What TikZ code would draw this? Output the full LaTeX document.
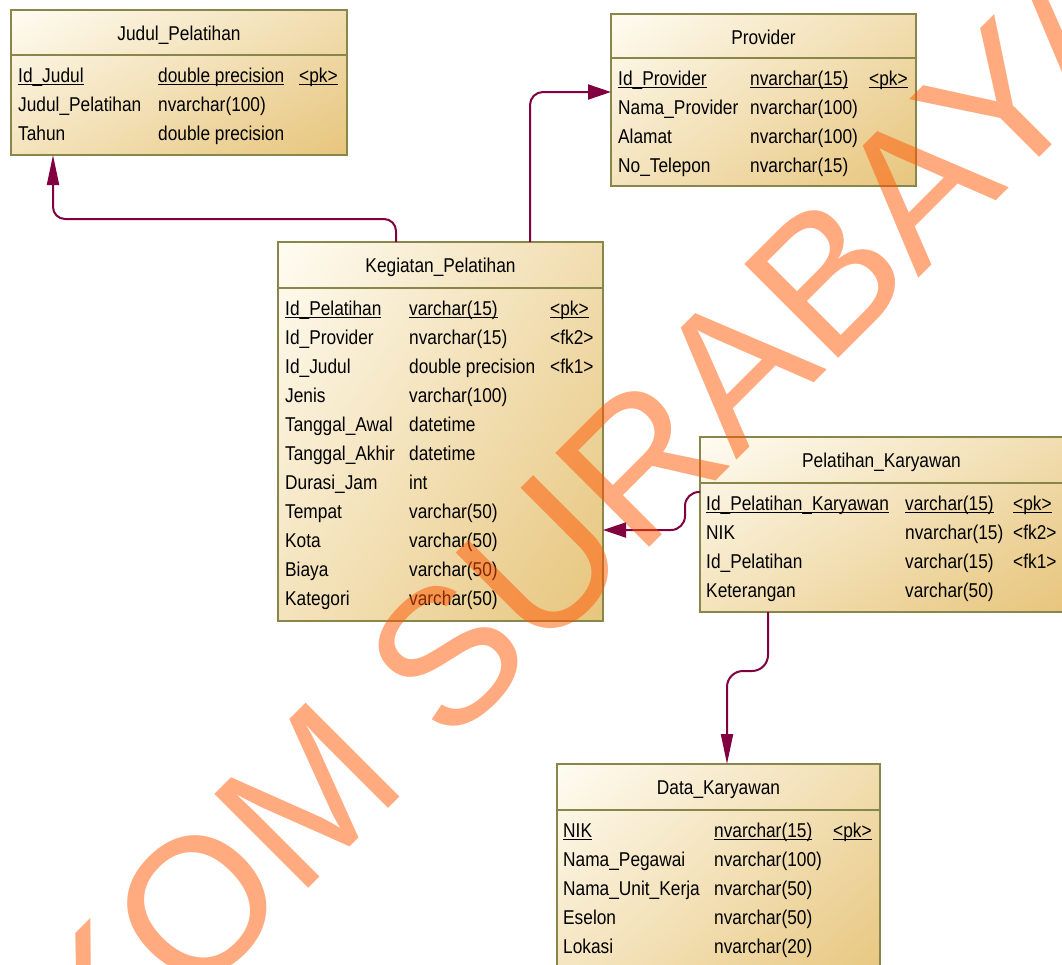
\documentclass[tikz,border=0pt]{standalone}
\usepackage{fontspec}
\setmainfont{Liberation Sans}[FakeStretch=0.865]
\newfontfamily\wmfont{Liberation Sans}
\usetikzlibrary{arrows.meta,shadings}
\definecolor{bordc}{RGB}{136,134,74}
\definecolor{connc}{RGB}{128,0,64}
\definecolor{wmc}{RGB}{255,85,0}
\definecolor{shUL}{RGB}{255,252,242}
\definecolor{shUR}{RGB}{241,221,176}
\definecolor{shLL}{RGB}{244,227,188}
\definecolor{shLR}{RGB}{231,197,124}
\newcommand\ulx[1]{\setbox0\hbox{#1}\rlap{\rule[-3pt]{\wd0}{1.3pt}}\box0}
\def\nokeymark{-}
\newcommand\tabrows[6]{%
  \foreach \fa/\fb/\fc [count=\i] in {#6}{%
    \node[cell] (#1-\i-a) at (#2,{#5+29*(\i-1)}) {\fa};
    \node[cell] (#1-\i-b) at (#3,{#5+29*(\i-1)}) {\fb};
    \ifx\fc\nokeymark\else\node[cell] (#1-\i-c) at (#4,{#5+29*(\i-1)}) {\fc};\fi
  }}
\tikzset{
  tbox/.style={draw=bordc, line width=1.8pt, rectangle, inner sep=0pt, outer sep=0pt,
    anchor=north west, upper left=shUL, upper right=shUR, lower left=shLL, lower right=shLR},
  hdr/.style={anchor=base, inner sep=0pt, font=\fontsize{20}{24}\selectfont},
  cell/.style={anchor=base west, inner sep=0pt, font=\fontsize{20}{24}\selectfont},
  sepline/.style={draw=bordc, line width=1.8pt},
  conn/.style={draw=connc, line width=2pt},
  arrv/.style={-{Triangle[length=30pt,width=12pt]}},
  arrh/.style={-{Triangle[length=23pt,width=15pt]}},
  wm/.style={anchor=base west, inner sep=0pt, rotate=45, text=wmc, text opacity=0.5,
    font=\wmfont\fontsize{193}{193}\selectfont}
}
\begin{document}
\begin{tikzpicture}[x=1pt,y=-1pt]
\useasboundingbox (0,0) rectangle (1062,964);
\clip (0,0) rectangle (1062,964);

% Judul_Pelatihan
\node[tbox, minimum width=336pt, minimum height=145pt] (judul) at (11,10) {};
\draw[sepline] ([yshift=-45pt]judul.north west) -- ([yshift=-45pt]judul.north east);
\node[hdr] (judul-h) at ([yshift=-30pt]judul.north) {Judul\_Pelatihan};
\tabrows{judul}{18}{158}{299}{82}{\ulx{Id\_Judul}/\ulx{double precision}/\ulx{<pk>},
  Judul\_Pelatihan/nvarchar(100)/-,
  Tahun/double precision/-}

% Provider
\node[tbox, minimum width=305pt, minimum height=172pt] (prov) at (611,14) {};
\draw[sepline] ([yshift=-44pt]prov.north west) -- ([yshift=-44pt]prov.north east);
\node[hdr] (prov-h) at ([yshift=-30pt]prov.north) {Provider};
\tabrows{prov}{618}{750}{869}{85}{\ulx{Id\_Provider}/\ulx{nvarchar(15)}/\ulx{<pk>},
  Nama\_Provider/nvarchar(100)/-,
  Alamat/nvarchar(100)/-,
  No\_Telepon/nvarchar(15)/-}

% Kegiatan_Pelatihan
\node[tbox, minimum width=325pt, minimum height=379pt] (keg) at (278,242) {};
\draw[sepline] ([yshift=-46pt]keg.north west) -- ([yshift=-46pt]keg.north east);
\node[hdr] (keg-h) at ([yshift=-30pt]keg.north) {Kegiatan\_Pelatihan};
\tabrows{keg}{285}{409}{550}{315}{\ulx{Id\_Pelatihan}/\ulx{varchar(15)}/\ulx{<pk>},
  Id\_Provider/nvarchar(15)/<fk2>,
  Id\_Judul/double precision/<fk1>,
  Jenis/varchar(100)/-,
  Tanggal\_Awal/datetime/-,
  Tanggal\_Akhir/datetime/-,
  Durasi\_Jam/int/-,
  Tempat/varchar(50)/-,
  Kota/varchar(50)/-,
  Biaya/varchar(50)/-,
  Kategori/varchar(50)/-}

% Pelatihan_Karyawan
\node[tbox, minimum width=363pt, minimum height=175pt] (pk) at (700,437) {};
\draw[sepline] ([yshift=-46pt]pk.north west) -- ([yshift=-46pt]pk.north east);
\node[hdr] (pk-h) at ([yshift=-30pt]pk.north) {Pelatihan\_Karyawan};
\tabrows{pk}{706}{905}{1013}{510}{\ulx{Id\_Pelatihan\_Karyawan}/\ulx{varchar(15)}/\ulx{<pk>},
  NIK/nvarchar(15)/<fk2>,
  Id\_Pelatihan/varchar(15)/<fk1>,
  Keterangan/varchar(50)/-}

% Data_Karyawan
\node[tbox, minimum width=323pt, minimum height=230pt] (data) at (557,764) {};
\draw[sepline] ([yshift=-46pt]data.north west) -- ([yshift=-46pt]data.north east);
\node[hdr] (data-h) at ([yshift=-30pt]data.north) {Data\_Karyawan};
\tabrows{data}{563}{714}{833}{837}{\ulx{NIK}/\ulx{nvarchar(15)}/\ulx{<pk>},
  Nama\_Pegawai/nvarchar(100)/-,
  Nama\_Unit\_Kerja/nvarchar(50)/-,
  Eselon/nvarchar(50)/-,
  Lokasi/nvarchar(20)/-}

% connectors
\draw[conn, arrv, rounded corners=12pt] (keg.north -| 396,0) -- ++(0,-23) -| (judul.south -| 53,0);
\draw[conn, arrh, rounded corners=13pt] (keg.north -| 530,0) |- (prov.west |- 0,92);
\draw[conn, arrh, rounded corners=14pt] (pk.west |- 0,492) -- ++(-15,0) |- (keg.east |- 0,530);
\draw[conn, arrv, rounded corners=16pt] (pk.south -| 768,0) -- ++(0,59) -| (data.north -| 727,0);

% watermark
\node[wm] (wm) at (100,1097) {KOM SURABAYA};
\end{tikzpicture}
\end{document}
